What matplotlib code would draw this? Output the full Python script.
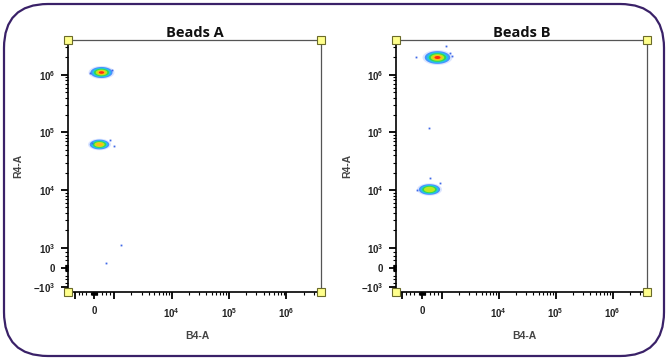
import numpy as np
import matplotlib.pyplot as plt
from matplotlib.path import Path
from matplotlib.patches import FancyBboxPatch

plt.rcParams['font.family'] = ['Liberation Sans', 'DejaVu Sans']
plt.rcParams['mathtext.fontset'] = 'custom'
plt.rcParams['mathtext.rm'] = 'Liberation Sans:bold'
plt.rcParams['mathtext.bf'] = 'Liberation Sans:bold'
plt.rcParams['mathtext.it'] = 'Liberation Sans:bold'

# datos
titulos = ['Beads A', 'Beads B']
clus_x = [[330, 240], [750, 330]]
clus_y = [[1.12e6, 6.4e4], [2.0e6, 1.05e4]]
clus_ancho = [[26, 23], [30, 25]]      # ancho aprox de la nube (px)
clus_nivel = [[7, 6], [7, 5]]          # niveles de densidad alcanzados
sueltos_x = [[1300, 570, -200, 900, -100, 800, 1000],
             [1170, 1380, 330, 380, -300, 1500, -250, 900]]
sueltos_y = [[1.1e3, 240, 1.08e6, 1.22e6, 6.6e4, 7.4e4, 5.8e4],
             [3.2e6, 2.4e6, 1.17e5, 1.6e4, 2.05e6, 2.1e6, 1.0e4, 1.3e4]]

y_ticks = [-1e3, 0, 1e3, 1e4, 1e5, 1e6]
y_labels = [r'$-10^3$', '0', r'$10^3$', r'$10^4$', r'$10^5$', r'$10^6$']
x_ticks = [-1e3, 0, 1e3, 1e4, 1e5, 1e6]
x_labels = ['', '0', '', r'$10^4$', r'$10^5$', r'$10^6$']

# niveles de color del mapa de densidad
niv_frac = [1.0, 0.85, 0.72, 0.58, 0.44, 0.32, 0.2]
niv_color = ['#9db6ff', '#3f8cff', '#22c8e6', '#35d948', '#c4ea1c', '#ffb81a', '#ff2410']

tt = np.linspace(0, 2*np.pi, 60)
elipse = Path(np.column_stack([np.cos(tt), 0.5*np.sin(tt)]))

menores = [m*10.0**d for d in range(3, 7) for m in range(2, 10)]
menores += list(np.arange(-150, 151, 25)) + [-800, -600, -400, 400, 600, 800]
menores = [v for v in menores if v < 3.9e6]

fig = plt.figure(figsize=(6.68, 3.6), dpi=100)

fondo = fig.add_axes([0, 0, 1, 1])
fondo.set_xlim(0, 668)
fondo.set_ylim(360, 0)
fondo.axis('off')
fondo.add_patch(FancyBboxPatch((4, 4), 660, 352, boxstyle='round,pad=0,rounding_size=44',
                               fill=False, edgecolor='#3a2168', linewidth=1.6))

posiciones = [[68/668, 68/360, 253/668, 252/360], [396/668, 68/360, 251/668, 252/360]]

for i in range(2):
    ax = fig.add_axes(posiciones[i])
    ax.set_xscale('symlog', linthresh=1000, linscale=0.31)
    ax.set_yscale('symlog', linthresh=1000, linscale=0.31)

    # nubes de eventos como niveles de densidad
    for j in range(len(clus_x[i])):
        for k in range(clus_nivel[i][j]):
            ms = clus_ancho[i][j]*niv_frac[k]*0.72
            ax.plot(clus_x[i][j], clus_y[i][j], linestyle='', marker=elipse,
                    markersize=ms, color=niv_color[k], markeredgewidth=0,
                    alpha=0.95 if k > 0 else 0.35)
    ax.plot(sueltos_x[i], sueltos_y[i], linestyle='', marker='s', markersize=1.3,
            color='#3f68e8', markeredgewidth=0)

    ax.set_xticks(x_ticks)
    ax.set_xticklabels(x_labels)
    ax.set_yticks(y_ticks)
    ax.set_yticklabels(y_labels)
    ax.set_xticks(menores, minor=True)
    ax.set_yticks(menores, minor=True)
    ax.set_xlim(-1300, 4e6)
    ax.set_ylim(-1200, 4e6)
    ax.tick_params(which='major', direction='out', length=5, width=1.3, color='black',
                   labelsize=7, pad=4)
    ax.tick_params(axis='x', which='major', pad=5)
    ax.tick_params(which='minor', direction='out', length=2.5, width=0.8, color='black')
    for lab in ax.get_xticklabels() + ax.get_yticklabels():
        lab.set_fontweight('bold')
        lab.set_color('#222222')

    ax.spines['left'].set_color('black')
    ax.spines['bottom'].set_color('black')
    ax.spines['left'].set_linewidth(1.2)
    ax.spines['bottom'].set_linewidth(1.2)
    ax.spines['top'].set_color('#555555')
    ax.spines['right'].set_color('#555555')
    ax.spines['top'].set_linewidth(0.9)
    ax.spines['right'].set_linewidth(0.9)

    ax.set_title(titulos[i], fontsize=10.5, fontweight='bold', family=['Open Sans', 'DejaVu Sans'],
                 pad=1.5, color='#111111')
    ax.set_xlabel('B4-A', fontsize=7.5, fontweight='bold', color='#444444')
    ax.set_ylabel('R4-A', fontsize=7.5, fontweight='bold', color='#444444')
    ax.xaxis.set_label_coords(0.51, -0.155)
    ax.yaxis.set_label_coords(-0.175, 0.5)

    # manijas amarillas en las esquinas
    ax.plot([0, 1, 0, 1], [0, 0, 1, 1], linestyle='', marker='s', markersize=5.5,
            markerfacecolor='#ffff8c', markeredgecolor='#6b6b2a', markeredgewidth=0.8,
            transform=ax.transAxes, clip_on=False, zorder=10)

plt.savefig('out.png', dpi=100)
